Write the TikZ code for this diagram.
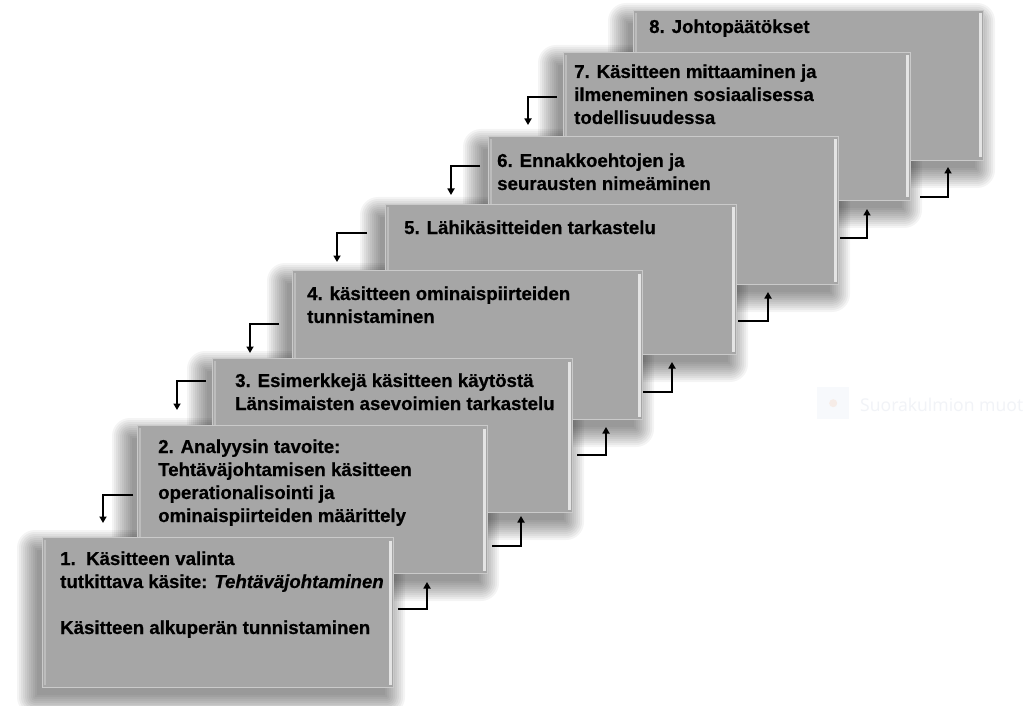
\documentclass[tikz,border=0pt]{standalone}
\usepackage{fontspec}
\setmainfont{Liberation Sans}[BoldFeatures={FakeBold=0.6},BoldItalicFeatures={FakeBold=0.6}]
\newfontfamily\uifont{Open Sans}
\usetikzlibrary{arrows.meta}
\pgfdeclarelayer{bg}
\pgfsetlayers{bg,main}
\definecolor{boxgray}{RGB}{166,166,166}
\definecolor{boxedge}{RGB}{202,202,202}
\definecolor{bevel}{RGB}{228,228,228}
\definecolor{bevelleft}{RGB}{188,188,188}
\definecolor{uibox}{RGB}{247,249,252}
\definecolor{uitext}{RGB}{241,243,247}
\definecolor{uidotc}{RGB}{246,236,231}
\tikzset{
  stepbox/.style={rectangle, fill=boxgray, draw=boxedge, line width=1pt,
    anchor=north west, inner sep=0pt,
    path picture={
      \draw[bevel, line width=2.2pt]
        ([xshift=-3pt,yshift=-3pt]path picture bounding box.north east) --
        ([xshift=-3pt,yshift=3pt]path picture bounding box.south east);
      \draw[bevelleft, line width=2pt]
        ([xshift=2.5pt,yshift=-2.5pt]path picture bounding box.north west) --
        ([xshift=2.5pt,yshift=2.5pt]path picture bounding box.south west);
    }},
  boxtext/.style={anchor=base west, inner sep=0pt, font=\fontsize{18.66}{23}\selectfont\bfseries},
  flowarrow/.style={draw=black, line width=1.7pt, -{Triangle[length=6.5pt,width=7pt]}},
  shadowlayer/.style={fill=black, opacity=0.045},
}
\newcommand\boxshadow[1]{%
  \foreach \r in {-2,0,...,18} {
    \pgfmathsetmacro\xa{-7-\r}\pgfmathsetmacro\xb{-7+\r}%
    \pgfmathsetmacro\ya{-11+\r}\pgfmathsetmacro\yb{-9-\r}%
    \pgfmathsetmacro\rc{max(\r,0.5)}%
    \fill[shadowlayer, rounded corners=\rc pt]
      ([xshift=\xa pt,yshift=\ya pt]#1.north west) rectangle
      ([xshift=\xb pt,yshift=\yb pt]#1.south east);
  }}
\begin{document}
\begin{tikzpicture}[x=1pt,y=-1pt]
\useasboundingbox (0,0) rectangle (1029,706);

% faint UI artefact
\node[fill=uibox, minimum size=32pt, inner sep=0pt, anchor=north west] (ui) at (817,387) {};
\node[circle, fill=uidotc, minimum size=8pt, inner sep=0pt] (uidot) at (ui.center) {};
\node[anchor=base west, inner sep=0pt, text=uitext, font=\uifont\fontsize{17.6}{22}\selectfont] (uitxt) at (860,411) {Suorakulmion muot};

% boxes, back to front
\node[stepbox, minimum width=350pt, minimum height=150pt] (b8) at (633,10) {};
\node[boxtext] (t8) at (649,33) {\begin{tabular}[t]{@{}l@{}}8. Johtopäätökset\end{tabular}};

\node[stepbox, minimum width=347pt, minimum height=148pt] (b7) at (563,52) {};
\node[boxtext] (t7) at (574,78) {\begin{tabular}[t]{@{}l@{}}7. Käsitteen mittaaminen ja\\ilmeneminen sosiaalisessa\\todellisuudessa\end{tabular}};

\node[stepbox, minimum width=350pt, minimum height=148pt] (b6) at (488,136) {};
\node[boxtext] (t6) at (497,167) {\begin{tabular}[t]{@{}l@{}}6. Ennakkoehtojen ja\\seurausten nimeäminen\end{tabular}};

\node[stepbox, minimum width=351pt, minimum height=150pt] (b5) at (385,204) {};
\node[boxtext] (t5) at (404,234) {\begin{tabular}[t]{@{}l@{}}5. Lähikäsitteiden tarkastelu\end{tabular}};

\node[stepbox, minimum width=350pt, minimum height=149pt] (b4) at (292,270) {};
\node[boxtext] (t4) at (307,300) {\begin{tabular}[t]{@{}l@{}}4. käsitteen ominaispiirteiden\\tunnistaminen\end{tabular}};

\node[stepbox, minimum width=360pt, minimum height=154pt] (b3) at (212,358) {};
\node[boxtext] (t3) at (235,387) {\begin{tabular}[t]{@{}l@{}}3. Esimerkkejä käsitteen käytöstä\\Länsimaisten asevoimien tarkastelu\end{tabular}};

\node[stepbox, minimum width=350pt, minimum height=148pt] (b2) at (137,425) {};
\node[boxtext] (t2) at (158,453) {\begin{tabular}[t]{@{}l@{}}2. Analyysin tavoite:\\Tehtäväjohtamisen käsitteen\\operationalisointi ja\\ominaispiirteiden määrittely\end{tabular}};

\node[stepbox, minimum width=351pt, minimum height=150pt] (b1) at (42,537) {};
\node[boxtext] (t1) at (60,565) {\begin{tabular}[t]{@{}l@{}}1.\ \ Käsitteen valinta\\tutkittava käsite: \textit{Tehtäväjohtaminen}\\ \\Käsitteen alkuperän tunnistaminen\end{tabular}};

% soft shadows behind all boxes
\begin{pgfonlayer}{bg}
\fill[white] (0,0) rectangle (1029,706);
\foreach \b in {b1,b2,b3,b4,b5,b6,b7,b8} { \boxshadow{\b} }
\end{pgfonlayer}

% left (down) arrows
\coordinate (l2s) at (133,495); \coordinate (l2e) at (103,523);
\coordinate (l3s) at (206,381); \coordinate (l3e) at (177,410);
\coordinate (l4s) at (279,324); \coordinate (l4e) at (250,353);
\coordinate (l5s) at (367,233); \coordinate (l5e) at (337,262);
\coordinate (l6s) at (480,166); \coordinate (l6e) at (451,195);
\coordinate (l7s) at (557,97);  \coordinate (l7e) at (528,125);
\foreach \k in {2,...,7} { \draw[flowarrow] (l\k s) -| (l\k e); }

% right (up) arrows
\coordinate (r1s) at (398,609); \coordinate (r1e) at (427,582);
\coordinate (r2s) at (492,546); \coordinate (r2e) at (521,516);
\coordinate (r3s) at (577,455); \coordinate (r3e) at (606,427);
\coordinate (r4s) at (643,392); \coordinate (r4e) at (672,362);
\coordinate (r5s) at (738,321); \coordinate (r5e) at (768,292);
\coordinate (r6s) at (840,238); \coordinate (r6e) at (867,209);
\coordinate (r7s) at (920,197); \coordinate (r7e) at (948,167);
\foreach \k in {1,...,7} { \draw[flowarrow] (r\k s) -| (r\k e); }
\end{tikzpicture}
\end{document}
